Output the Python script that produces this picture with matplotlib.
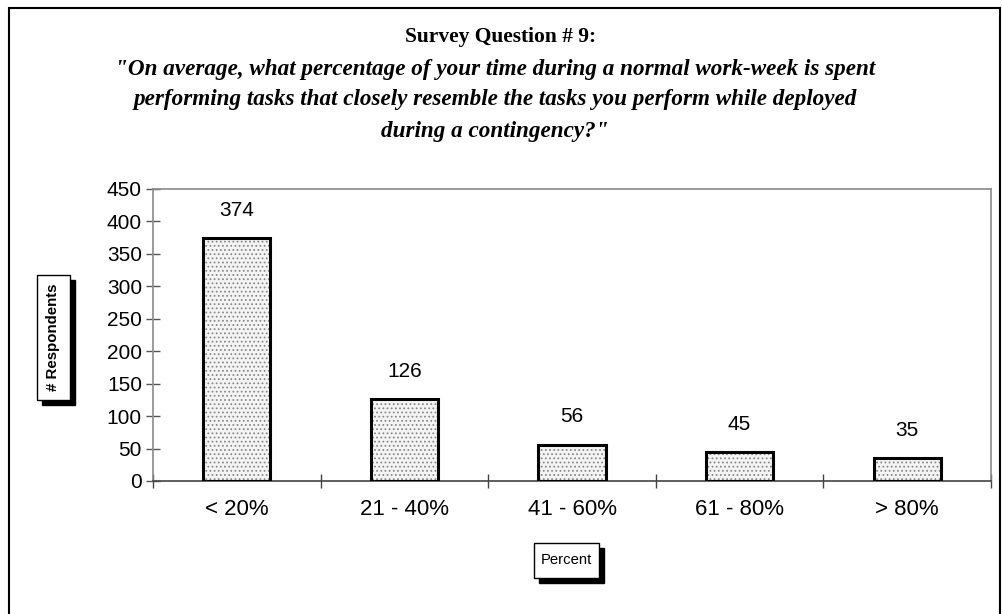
import matplotlib
matplotlib.use("Agg")
import matplotlib.pyplot as plt
from matplotlib.patches import Rectangle

# data
categories = ["< 20%", "21 - 40%", "41 - 60%", "61 - 80%", "> 80%"]
respondents = [374, 126, 56, 45, 35]
y_ticks = [0, 50, 100, 150, 200, 250, 300, 350, 400, 450]

title_head = "Survey Question # 9:"
title_lines = [
    "\"On average, what percentage of your time during a normal work-week is spent",
    "performing tasks that closely resemble the tasks you perform while deployed",
    "during a contingency?\"",
]

W, H = 1003, 614
plt.rcParams["font.family"] = ["Liberation Sans", "DejaVu Sans"]
plt.rcParams["hatch.linewidth"] = 0.8

fig = plt.figure(figsize=(W / 100, H / 100), dpi=100)


def px_box(x0, y0, x1, y1):
    # pixel box (top-left origin) -> figure fraction rect
    return (x0 / W, 1 - y1 / H), (x1 - x0) / W, (y1 - y0) / H


# outer frame
(bx, by), bw, bh = px_box(9, 8, 1000, 640)
fig.add_artist(Rectangle((bx, by), bw, bh, transform=fig.transFigure,
                         fill=False, edgecolor="black", linewidth=1.5))

# titles
fig.text(501 / W, 1 - 37 / H, title_head, ha="center", va="center",
         fontsize=15.5, fontweight="bold", family="Liberation Serif")
for i, line in enumerate(title_lines):
    fig.text(495 / W, 1 - (69 + 31 * i) / H, line, ha="center", va="center",
             fontsize=16.7, fontweight="bold", style="italic",
             family="Liberation Serif")

# plot area
ax = fig.add_axes([153 / W, 1 - 481 / H, (991 - 153) / W, (481 - 189) / H])
x = range(len(categories))
ax.bar(x, respondents, width=0.4, color="#f4f4f4", edgecolor="#8a8a8a",
       hatch="....", linewidth=0, zorder=2)
ax.bar(x, respondents, width=0.4, fill=False, edgecolor="black",
       linewidth=2.2, zorder=3)

for i, v in enumerate(respondents):
    ax.annotate(str(v), (i, v), xytext=(0, 20), textcoords="offset points",
                ha="center", va="center", fontsize=15)

ax.set_xlim(-0.5, len(categories) - 0.5)
ax.set_ylim(0, 450)
ax.set_yticks(y_ticks)
ax.set_yticklabels([str(t) for t in y_ticks], fontsize=15)
ax.tick_params(axis="y", direction="inout", length=10, width=1,
               color="#555555", pad=3)

ax.set_xticks([i - 0.5 for i in range(len(categories) + 1)])
ax.set_xticklabels([])
ax.set_xticks(list(x), minor=True)
ax.set_xticklabels(categories, minor=True, fontsize=16)
ax.tick_params(axis="x", which="major", direction="inout", length=10,
               width=1, color="#444444")
ax.tick_params(axis="x", which="minor", length=0, pad=13)

for side in ["left", "top", "right"]:
    ax.spines[side].set_color("#8a8a8a")
    ax.spines[side].set_linewidth(1.2)
ax.spines["bottom"].set_color("#444444")
ax.spines["bottom"].set_linewidth(1.2)


def label_box(x0, y0, x1, y1, text, rotation=0, bold=False, size=9):
    (sx, sy), sw, sh = px_box(x0 + 5, y0 + 5, x1 + 5, y1 + 5)
    fig.add_artist(Rectangle((sx, sy), sw, sh, transform=fig.transFigure,
                             facecolor="black", edgecolor="black"))
    (rx, ry), rw, rh = px_box(x0, y0, x1, y1)
    fig.add_artist(Rectangle((rx, ry), rw, rh, transform=fig.transFigure,
                             facecolor="white", edgecolor="black",
                             linewidth=1))
    fig.text(rx + rw / 2, ry + rh / 2, text, ha="center", va="center",
             rotation=rotation, fontsize=size,
             fontweight="bold" if bold else "normal")


label_box(37, 275, 70, 400, "# Respondents", rotation=90, bold=True, size=10.8)
label_box(534, 543, 599, 578, "Percent", size=10.7)

fig.savefig("out.png", dpi=100)
